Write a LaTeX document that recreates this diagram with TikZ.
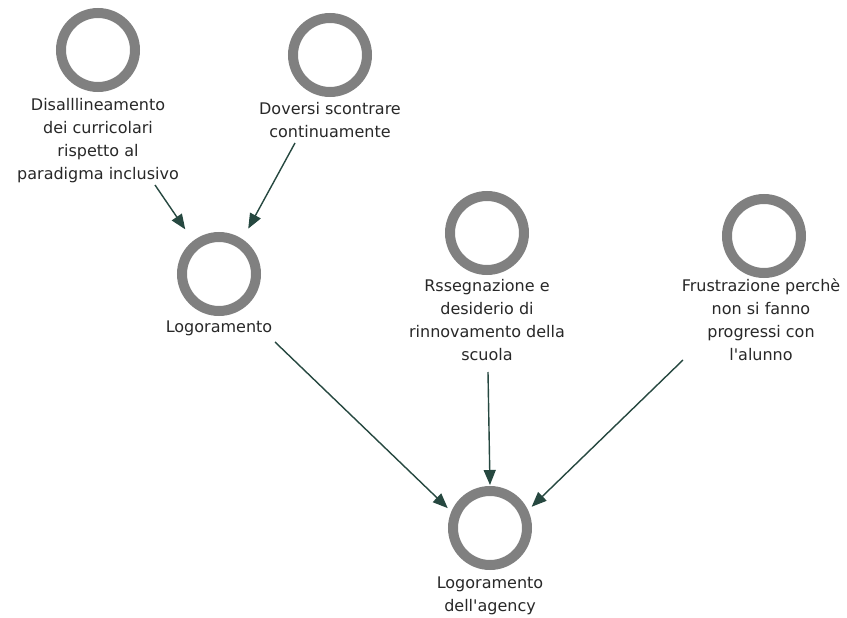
\documentclass[tikz,border=0pt]{standalone}
\usepackage{fontspec}
\setmainfont{DejaVu Sans}[Ligatures=TeXOff]
\usetikzlibrary{arrows.meta}
\definecolor{ringgray}{RGB}{128,128,128}
\definecolor{txtgray}{RGB}{40,40,40}
\definecolor{arrowgreen}{RGB}{38,72,64}
\tikzset{
  ring/.style={circle,draw=ringgray,line width=10pt,minimum size=74pt,inner sep=0pt,fill=white},
  lbl/.style={align=center,anchor=north,inner sep=0pt,text=txtgray,font=\fontsize{16}{23}\selectfont},
  link/.style={draw=arrowgreen,line width=1.4pt,-{Triangle[length=15pt,width=12pt]}}
}
\begin{document}
\begin{tikzpicture}[x=1pt,y=-1pt]
\useasboundingbox (0,0) rectangle (847,618);
\fill[white] (0,0) rectangle (847,618);

% concept circles
\node[ring] (c1) at (98,50) {};
\node[ring] (c2) at (330,55) {};
\node[ring] (c3) at (219,274) {};
\node[ring] (c4) at (487,233) {};
\node[ring] (c5) at (764,236) {};
\node[ring] (c6) at (490,528) {};

% captions
\node[lbl] (l1) at (98,98) {Disalllineamento\\dei curricolari\\rispetto al\\paradigma inclusivo};
\node[lbl] (l2) at (330,102) {Doversi scontrare\\continuamente};
\node[lbl] (l3) at (219,321) {Logoramento};
\node[lbl] (l4) at (487,279) {Rssegnazione e\\desiderio di\\rinnovamento della\\scuola};
\node[lbl] (l5) at (761,279) {Frustrazione perchè\\non si fanno\\progressi con\\l'alunno};
\node[lbl] (l6) at (490,577) {Logoramento\\dell'agency};

% starting points of the links, just below the captions
\coordinate (s1) at (155,185);
\coordinate (s2) at (295,143);
\coordinate (s3) at (275,342);
\coordinate (s4) at (488,372);
\coordinate (s5) at (683,360);

% links
\draw[link,shorten >=14pt] (s1) -- (c3.128);
\draw[link,shorten >=12pt] (s2) -- (c3.56);
\draw[link,shorten >=5pt] (s3) -- (c6.157);
\draw[link,shorten >=1pt] (s4) -- (c6.north);
\draw[link,shorten >=5pt] (s5) -- (c6.25);
\end{tikzpicture}
\end{document}
